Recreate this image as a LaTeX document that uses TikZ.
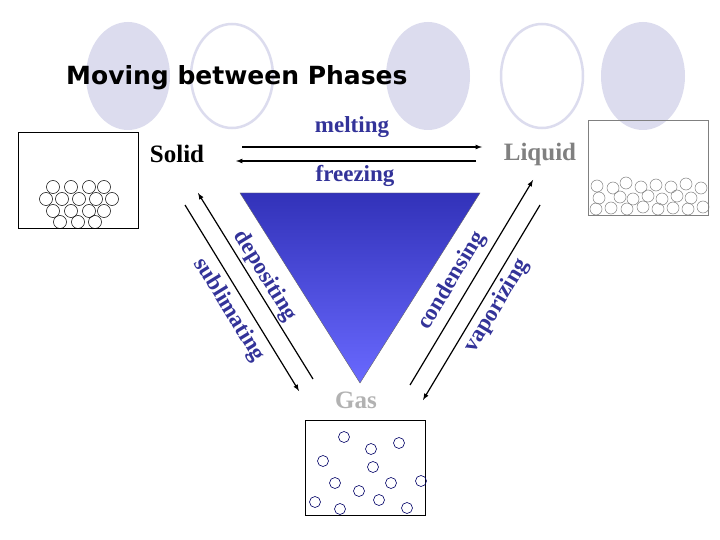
\documentclass[tikz,border=0pt]{standalone}
\usepackage{fontspec}
\setmainfont{Liberation Serif}
\newfontfamily\titlefont{DejaVu Sans}
\definecolor{lav}{RGB}{220,220,238}
\definecolor{tri1}{RGB}{50,50,185}
\definecolor{tri2}{RGB}{105,105,255}
\definecolor{lblc}{RGB}{51,51,153}
\begin{document}
\begin{tikzpicture}[x=1pt,y=-1pt,
  lbl/.style={text=lblc,font=\bfseries\fontsize{23}{23}\selectfont},
  phase/.style={font=\bfseries\fontsize{25}{25}\selectfont},
  arr/.style={-latex,line width=1.2pt},
  box/.style={draw,line width=0.9pt},
  mol/.style={draw,circle,inner sep=0pt,minimum size=13pt,line width=0.5pt},
  gmol/.style={draw=blue!40!black,circle,inner sep=0pt,minimum size=11pt,line width=0.6pt}]
\useasboundingbox (0,0) rectangle (720,540);
\fill[white] (0,0) rectangle (720,540);
\fill[lav] (128,76) ellipse (42 and 54);
\draw[lav,line width=2.5pt] (232,76) ellipse (41 and 52);
\fill[lav] (428,76) ellipse (42 and 54);
\draw[lav,line width=2.5pt] (542,76) ellipse (41 and 52);
\fill[lav] (643,76) ellipse (42 and 54);
\node[anchor=base west,font=\titlefont\bfseries\fontsize{25}{25}\selectfont,inner sep=0] (title) at (66,85) {Moving between Phases};
% boxes
\draw[box] (18,132) rectangle (138,228);
\draw[box,gray] (588,120) rectangle (708,215);
\draw[box] (305,420) rectangle (425,515);
\foreach \x in {53,71,89,104} \node[mol] at (\x,187) {};
\foreach \x in {46,62,79,96,112} \node[mol] at (\x,199) {};
\foreach \x in {53,71,89,104} \node[mol] at (\x,211) {};
\foreach \x in {60,78,95} \node[mol] at (\x,222) {};
\foreach \x/\y in {597/186,613/188,626/183,641/187,656/185,671/187,686/184,701/188,
 599/198,620/197,633/199,648/196,662/199,677/196,691/198,
 596/209,611/208,627/209,643/207,658/209,673/208,688/209,703/207}
  \node[mol,draw=gray,minimum size=12pt] at (\x,\y) {};
\foreach \x/\y in {344/437,371/449,399/443,323/461,373/467,335/483,359/491,391/483,421/481,315/502,340/509,379/500,407/508}
  \node[gmol] at (\x,\y) {};
% triangle
\shade[top color=tri1,bottom color=tri2,draw=black!60,line width=0.4pt] (240,193) -- (480,193) -- (360,383) -- cycle;
% phases
\node[phase] (solid) at (177,154) {Solid};
\node[phase,text=gray] (liquid) at (540,154) {Liquid};
\node[phase,text=black!30] (gas) at (356,400) {Gas};
% arrows
\coordinate (m1) at (242,147); \coordinate (m2) at (482,147);
\coordinate (f1) at (476,161); \coordinate (f2) at (236,161);
\draw[arr] (m1) -- (m2);
\draw[arr] (f1) -- (f2);
\node[lbl] (melt) at (352,127) {melting};
\node[lbl] (freeze) at (355,176) {freezing};
\coordinate (s1) at (185,205); \coordinate (s2) at (299,391);
\coordinate (d1) at (313,379); \coordinate (d2) at (198,193);
\coordinate (c1) at (410,385); \coordinate (c2) at (533,180);
\coordinate (v1) at (540,205); \coordinate (v2) at (423,400);
\draw[arr] (s1) -- (s2);
\draw[arr] (d1) -- (d2);
\draw[arr] (c1) -- (c2);
\draw[arr] (v1) -- (v2);
\node[lbl,rotate=-58.5] (subl) at (229,310) {sublimating};
\node[lbl,rotate=-58.5] (depo) at (265,276) {depositing};
\node[lbl,rotate=59] (cond) at (452,281) {condensing};
\node[lbl,rotate=59] (vapo) at (497,306) {vaporizing};
\end{tikzpicture}
\end{document}
